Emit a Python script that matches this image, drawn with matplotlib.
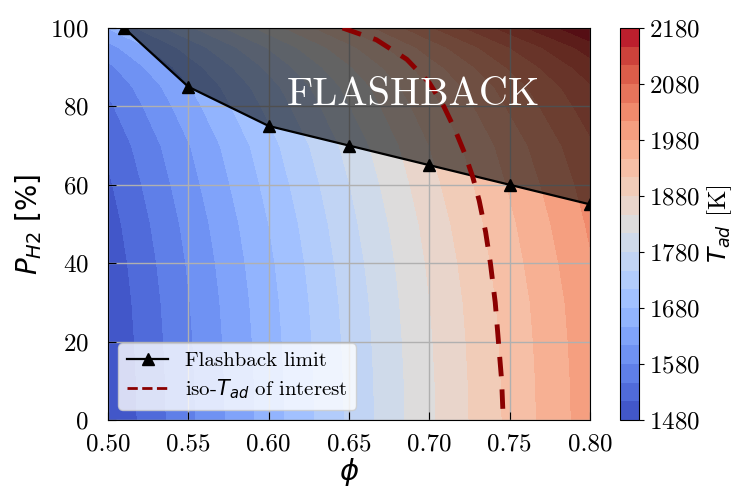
import matplotlib
matplotlib.use('Agg')
import matplotlib.pyplot as plt
from matplotlib.lines import Line2D
import numpy as np

plt.rcParams['font.family'] = ['cmr10', 'DejaVu Serif']
plt.rcParams['mathtext.fontset'] = 'dejavusans'
plt.rcParams['axes.formatter.use_mathtext'] = True

# grid of the adiabatic flame temperature map
phi = [0.50, 0.55, 0.60, 0.65, 0.70, 0.75, 0.80]
p_h2 = [0, 10, 20, 30, 40, 50, 60, 70, 80, 85, 90, 95, 100]
t_ad = [
    [1480, 1572, 1662, 1752, 1840, 1921, 1998],
    [1481, 1573, 1663, 1753, 1841, 1922, 1999],
    [1483, 1575, 1665, 1755, 1843, 1924, 2001],
    [1486, 1578, 1668, 1758, 1846, 1927, 2004],
    [1491, 1583, 1673, 1763, 1851, 1933, 2010],
    [1498, 1590, 1680, 1770, 1858, 1940, 2018],
    [1508, 1600, 1690, 1779, 1868, 1950, 2028],
    [1520, 1611, 1701, 1791, 1880, 1962, 2041],
    [1540, 1632, 1722, 1812, 1900, 1984, 2063],
    [1552, 1644, 1734, 1823, 1912, 1996, 2076],
    [1572, 1664, 1754, 1843, 1932, 2017, 2098],
    [1601, 1693, 1782, 1871, 1961, 2046, 2129],
    [1648, 1740, 1829, 1918, 2008, 2095, 2180],
]

# flashback limit
fb_phi = [0.51, 0.55, 0.60, 0.65, 0.70, 0.75, 0.80]
fb_h2 = [100, 85, 75, 70, 65, 60, 55]

# iso-Tad of interest
iso_phi = [0.646, 0.667, 0.686, 0.700, 0.709, 0.716, 0.722, 0.727, 0.731, 0.735, 0.738, 0.741, 0.743, 0.745, 0.746]
iso_h2 = [100, 97, 92, 86, 80, 74, 68, 62, 56, 48, 40, 30, 20, 10, 0]

niveis = np.linspace(1480, 2180, 22)
cbar_ticks = [1480, 1580, 1680, 1780, 1880, 1980, 2080, 2180]

fig = plt.figure(figsize=(7.38, 4.9), dpi=100)
ax = fig.add_axes([0.1463, 0.1429, 0.6532, 0.80])
cax = fig.add_axes([0.840, 0.1429, 0.0257, 0.80])

cf = ax.contourf(phi, p_h2, np.array(t_ad), levels=niveis, cmap='coolwarm')
ax.grid(True, color='#b0b0b0', linewidth=1.0, zorder=1.5)
ax.fill_between(fb_phi, fb_h2, 100, color='k', alpha=0.55, linewidth=0, zorder=2)
ax.plot(fb_phi, fb_h2, color='k', marker='^', markersize=8, linewidth=1.6, zorder=3)
ax.plot(iso_phi, iso_h2, color='darkred', linewidth=3.5, dashes=(4, 2.7), zorder=3)

ax.text(0.69, 83, 'FLASHBACK', color='white', fontsize=29, ha='center', va='center', zorder=4)

ax.set_xlim(0.5, 0.8)
ax.set_ylim(0, 100)
ax.set_xticks(np.arange(0.5, 0.81, 0.05))
ax.set_yticks(np.arange(0, 101, 20))
ax.set_xticklabels([f'{v:.2f}' for v in np.arange(0.5, 0.81, 0.05)])
ax.tick_params(direction='in', labelsize=18, length=6)
ax.tick_params(axis='y', pad=14)
ax.tick_params(axis='x', pad=10)
ax.set_xlabel(r'$\phi$', fontsize=21, labelpad=0)
ax.set_ylabel(r'$P_{H2}$ $[\%]$', fontsize=20, labelpad=4)

handles = [Line2D([], [], color='k', marker='^', markersize=8, linewidth=1.6),
           Line2D([], [], color='darkred', linestyle='--', linewidth=2)]
ax.legend(handles, ['Flashback limit', r'iso-$T_{ad}$ of interest'], loc='lower left', fontsize=15,
          borderaxespad=0.5, handletextpad=0.8, labelspacing=0.35)

cb = fig.colorbar(cf, cax=cax, ticks=cbar_ticks)
cb.ax.tick_params(labelsize=18)
cb.set_label(r'$T_{ad}$ [K]', fontsize=18)

fig.savefig('out.png', dpi=100)
